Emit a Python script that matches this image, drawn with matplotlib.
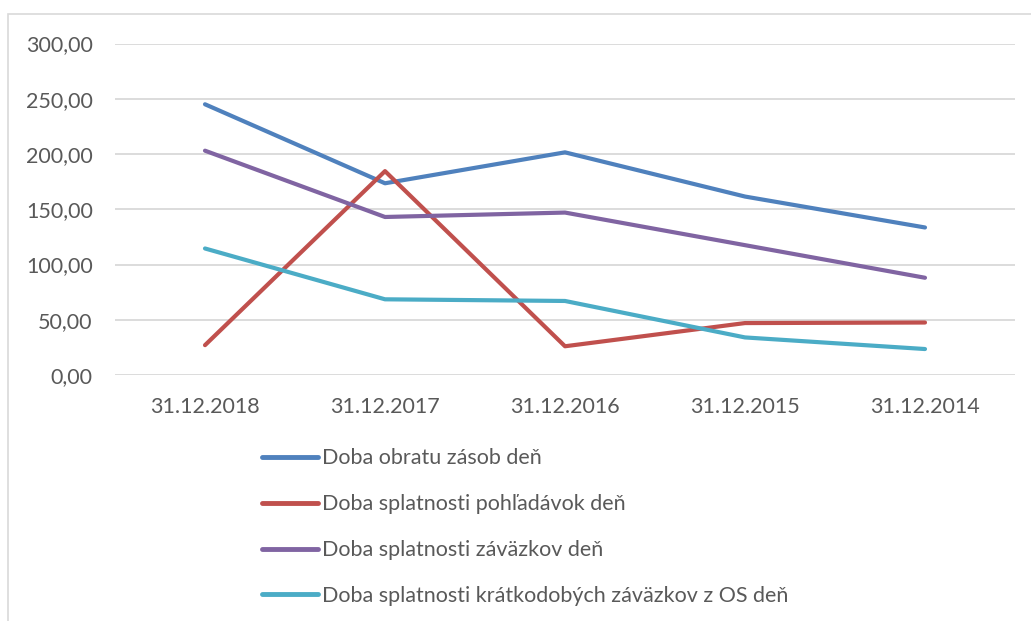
import matplotlib.pyplot as plt
from matplotlib.patches import Rectangle
from matplotlib.ticker import FuncFormatter

# Dáta odčítané z grafu
datumy = ['31.12.2018', '31.12.2017', '31.12.2016', '31.12.2015', '31.12.2014']
obrat_zasob = [245.0, 173.5, 201.5, 161.5, 133.5]
splat_pohladavok = [27.0, 184.5, 26.0, 47.0, 47.5]
splat_zavazkov = [203.0, 143.0, 147.0, 117.5, 88.0]
splat_kratkodobych = [114.5, 68.5, 67.0, 34.0, 23.5]

nazvy = ['Doba obratu zásob deň',
         'Doba splatnosti pohľadávok deň',
         'Doba splatnosti záväzkov deň',
         'Doba splatnosti krátkodobých záväzkov z OS deň']
farby = ['#4f81bd', '#c0504d', '#8064a2', '#4bacc6']

plt.rcParams['font.family'] = ['Lato', 'DejaVu Sans']
text_farba = '#595959'
fs = 15.5

W, H = 1031, 621
fig = plt.figure(figsize=(W / 100, H / 100), dpi=100)

# rám okolo grafu
fig.patches.append(Rectangle((8 / W, -0.1), 1.2, 1 - 14 / H + 0.1, transform=fig.transFigure,
                             fill=False, ec='#d9d9d9', lw=1.2))

ax = fig.add_axes([115 / W, 1 - 375 / H, 900 / W, (375 - 43.5) / H])
x = range(len(datumy))
for serie, nazov, farba in zip([obrat_zasob, splat_pohladavok, splat_zavazkov, splat_kratkodobych],
                               nazvy, farby):
    ax.plot(x, serie, color=farba, lw=3, label=nazov, solid_capstyle='round',
            solid_joinstyle='round', zorder=3)

ax.set_xlim(-0.5, len(datumy) - 0.5)
ax.set_ylim(0, 300)
ax.set_yticks(range(0, 301, 50))
ax.yaxis.set_major_formatter(FuncFormatter(lambda v, p: f'{v:.2f}'.replace('.', ',')))
ax.set_xticks(list(x))
ax.set_xticklabels(datumy)
ax.grid(axis='y', color='#d9d9d9', lw=1.3)
ax.set_axisbelow(True)
for s in ax.spines.values():
    s.set_visible(False)
ax.tick_params(axis='both', length=0, labelsize=fs, colors=text_farba)
ax.tick_params(axis='y', pad=16)
ax.tick_params(axis='x', pad=16)

leg = fig.legend(loc='upper left', bbox_to_anchor=(243 / W, 1 - 429 / H), frameon=False,
                 fontsize=fs, handlelength=2.6, handletextpad=0.15, labelspacing=1.2,
                 labelcolor=text_farba)
for l in leg.get_lines():
    l.set_linewidth(3.5)
    l.set_solid_capstyle('round')

fig.savefig('out.png', dpi=100)
